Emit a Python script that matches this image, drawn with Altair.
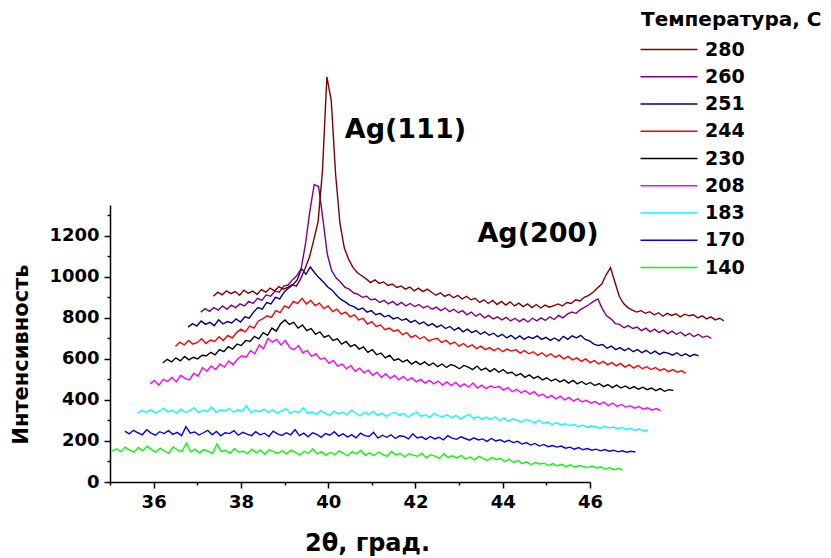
import altair as alt
import numpy as np
import pandas as pd

# Series order (legend order, top to bottom) and colours
TEMPS = ["280", "260", "251", "244", "230", "208", "183", "170", "140"]
COLORS = ["#800000", "#800080", "#000080", "#FF0000", "#000000",
          "#FF00FF", "#00FFFF", "#0000FF", "#00FF00"]

# waterfall: first 2θ of each plotted curve, common sampling step
X_START = {"140": 35.05, "170": 35.34, "183": 35.63, "208": 35.92, "230": 36.21,
           "244": 36.50, "251": 36.79, "260": 37.08, "280": 37.37}
STEP = 0.1

I_140 = [150, 162, 148, 170, 155, 145, 168, 152, 175, 158,
         146, 165, 150, 140, 172, 155, 149, 190, 147, 160,
         142, 158, 150, 139, 185, 148, 155, 140, 162, 146,
         150, 138, 160, 143, 155, 135, 158, 148, 140, 152,
         137, 155, 145, 132, 150, 140, 162, 136, 148, 130,
         145, 133, 152, 140, 128, 148, 137, 155, 130, 142,
         128, 146, 135, 125, 150, 132, 140, 122, 138, 131,
         125, 140, 118, 133, 126, 115, 138, 120, 128, 117,
         130, 112, 122, 108, 125, 115, 105, 120, 110, 114,
         100, 112, 95, 104, 90, 98, 85, 95, 88, 92,
         80, 90, 78, 86, 75, 84, 72, 80, 76, 70,
         78, 68, 74, 63, 70, 60, 66, 58]

I_170 = [248, 235, 252, 240, 230, 255, 238, 228, 245, 236,
         250, 232, 242, 226, 270, 238, 244, 229, 240, 252,
         230, 246, 225, 240, 236, 250, 228, 242, 233, 226,
         245, 230, 238, 222, 248, 235, 227, 240, 230, 255,
         226, 238, 220, 240, 232, 218, 236, 228, 245, 224,
         235, 220, 230, 215, 238, 226, 222, 242, 214, 228,
         218, 230, 212, 225, 222, 210, 235, 215, 220, 208,
         222, 210, 218, 205, 226, 214, 208, 220, 212, 204,
         215, 205, 210, 198, 212, 200, 206, 195, 203, 192,
         198, 185, 192, 180, 188, 175, 183, 172, 178, 170,
         175, 165, 170, 160, 168, 157, 163, 155, 160, 152,
         158, 150, 155, 147, 152, 145, 150, 146]

I_183 = [335, 348, 340, 352, 338, 345, 360, 342, 350, 336,
         355, 340, 348, 362, 338, 350, 344, 365, 340, 352,
         346, 358, 340, 352, 345, 372, 338, 350, 343, 355,
         340, 352, 336, 346, 358, 334, 345, 340, 362, 335,
         342, 330, 348, 336, 325, 345, 332, 340, 328, 350,
         335, 322, 340, 328, 345, 325, 336, 320, 332, 338,
         326, 334, 318, 330, 340, 320, 328, 315, 335, 322,
         318, 328, 312, 325, 308, 320, 330, 310, 318, 306,
         315, 305, 318, 300, 312, 296, 308, 302, 292, 305,
         298, 288, 300, 285, 292, 280, 290, 278, 284, 275,
         280, 270, 278, 266, 274, 268, 262, 272, 264, 268,
         260, 266, 256, 262, 252, 258, 248, 252]

I_208 = [478, 495, 472, 500, 490, 510, 488, 520, 505, 498,
         530, 515, 558, 540, 565, 548, 575, 560, 590, 572,
         598, 615, 608, 640, 625, 668, 650, 700, 682, 695,
         668, 690, 655, 645, 665, 630, 640, 612, 625, 598,
         605, 578, 592, 565, 575, 552, 568, 540, 555, 532,
         545, 520, 535, 510, 528, 505, 520, 498, 515, 495,
         508, 488, 500, 482, 495, 478, 492, 472, 488, 470,
         485, 465, 478, 462, 482, 458, 472, 455, 468, 460,
         465, 448, 460, 440, 452, 435, 445, 428, 440, 420,
         428, 410, 422, 405, 418, 400, 412, 395, 405, 390,
         398, 385, 392, 378, 390, 372, 385, 368, 378, 365,
         372, 360, 368, 355, 362, 350, 358, 348]

I_230 = [580, 598, 585, 605, 590, 612, 595, 608, 600, 618,
         615, 632, 620, 645, 635, 660, 648, 672, 665, 690,
         685, 710, 698, 728, 715, 750, 735, 772, 790, 768,
         778, 750, 765, 738, 748, 720, 732, 705, 715, 690,
         698, 672, 685, 660, 670, 648, 658, 632, 645, 620,
         628, 605, 618, 592, 600, 585, 595, 575, 588, 572,
         585, 568, 580, 562, 575, 558, 572, 565, 552, 568,
         560, 548, 565, 545, 555, 538, 552, 535, 548, 530,
         535, 518, 528, 510, 522, 505, 515, 498, 508, 492,
         502, 488, 498, 482, 495, 478, 490, 475, 485, 470,
         480, 465, 475, 460, 472, 458, 468, 455, 465, 452,
         462, 450, 458, 445, 455, 442, 450, 446]

I_244 = [660, 682, 668, 690, 672, 680, 698, 675, 692, 685,
         708, 690, 715, 702, 728, 745, 732, 760, 750, 785,
         795, 810, 802, 835, 825, 858, 848, 880, 870, 895,
         868, 885, 860, 872, 845, 858, 830, 842, 818, 828,
         805, 815, 790, 798, 770, 782, 758, 765, 742, 750,
         735, 742, 718, 728, 705, 715, 698, 708, 688, 695,
         700, 680, 690, 672, 682, 662, 675, 658, 668, 650,
         662, 645, 655, 640, 652, 635, 648, 638, 645, 628,
         640, 625, 635, 618, 630, 612, 625, 608, 618, 600,
         612, 595, 605, 588, 600, 582, 592, 576, 588, 572,
         582, 566, 578, 560, 572, 555, 568, 552, 562, 548,
         558, 544, 552, 538, 548, 535, 542, 530]

I_251 = [755, 772, 760, 785, 768, 778, 762, 790, 770, 782,
         775, 795, 780, 805, 798, 828, 850, 842, 875, 868,
         900, 892, 925, 945, 962, 985, 1040, 1012, 1048, 1020,
         995, 975, 950, 935, 910, 890, 878, 862, 855, 840,
         848, 828, 835, 815, 822, 805, 812, 795, 802, 788,
         795, 778, 788, 770, 780, 762, 772, 755, 765, 748,
         758, 740, 752, 732, 745, 728, 738, 720, 732, 715,
         725, 708, 720, 702, 715, 698, 712, 695, 708, 700,
         712, 695, 705, 690, 702, 688, 710, 695, 712, 702,
         715, 695, 688, 672, 665, 670, 652, 662, 645, 655,
         640, 652, 635, 645, 630, 642, 625, 638, 622, 632,
         628, 618, 630, 615, 625, 612, 622, 615]

I_260 = [828, 845, 832, 850, 838, 858, 842, 862, 850, 868,
         858, 880, 870, 895, 885, 912, 905, 930, 925, 955,
         960, 985, 1005, 1040, 1160, 1320, 1450, 1440, 1280, 1110,
         1030, 995, 975, 950, 940, 922, 915, 900, 905, 888,
         892, 875, 885, 868, 880, 862, 875, 858, 870, 855,
         865, 848, 858, 842, 852, 835, 848, 830, 842, 825,
         835, 815, 828, 808, 820, 800, 812, 795, 805, 790,
         802, 785, 798, 782, 795, 780, 798, 785, 800, 788,
         805, 792, 812, 800, 818, 828, 822, 840, 852, 865,
         880, 892, 845, 810, 795, 772, 768, 752, 762, 748,
         755, 738, 750, 732, 745, 728, 740, 722, 735, 720,
         730, 712, 725, 708, 720, 705, 712, 700]

I_280 = [905, 925, 912, 932, 918, 928, 910, 935, 920, 930,
         915, 938, 925, 945, 932, 952, 940, 948, 962, 955,
         990, 1040, 1095, 1180, 1270, 1520, 1975, 1860, 1500, 1260,
         1140, 1085, 1045, 1020, 1005, 990, 972, 985, 968, 975,
         958, 965, 948, 955, 940, 950, 932, 945, 928, 940,
         925, 910, 922, 905, 915, 898, 910, 892, 905, 888,
         895, 875, 888, 870, 885, 865, 880, 862, 878, 858,
         872, 855, 868, 850, 865, 848, 862, 852, 860, 868,
         858, 875, 870, 888, 882, 900, 910, 925, 945, 965,
         1010, 1045, 975, 905, 870, 850, 838, 828, 835, 822,
         830, 815, 825, 808, 822, 812, 820, 805, 818, 810,
         815, 800, 810, 795, 805, 790, 798, 785]

SERIES = {"140": I_140, "170": I_170, "183": I_183, "208": I_208, "230": I_230,
          "244": I_244, "251": I_251, "260": I_260, "280": I_280}

X_TICKS = list(range(35, 47))
Y_TICKS = list(range(0, 1400, 100))

ANN_TEXT = ["Ag(111)", "Ag(200)"]
ANN_X = [40.38, 43.42]
ANN_Y = [1676, 1169]

rows = []
for temp in ["140", "170", "183", "208", "230", "244", "251", "260", "280"]:
    vals = SERIES[temp]
    xs = X_START[temp] + STEP * np.arange(len(vals))
    for k, (xv, yv) in enumerate(zip(xs, vals)):
        rows.append({"temp": temp, "x": round(float(xv), 3), "y": yv, "k": k})
df = pd.DataFrame(rows)
ann_df = pd.DataFrame({"label": ANN_TEXT, "x": ANN_X, "y": ANN_Y})

FONT = "DejaVu Sans"

xscale = alt.Scale(domain=[35, 46], nice=False, zero=False)
yscale = alt.Scale(domain=[0, 1350], nice=False, zero=False)

xaxis = alt.Axis(
    values=X_TICKS, format="d", labelFlush=False,
    labelExpr="datum.value % 2 == 0 ? datum.label : ''",
    tickSize={"condition": {"test": "datum.value % 2 == 0", "value": 6}, "value": 3},
    labelPadding=5,
    title="2θ, град.",
    titleX=257, titleY=68, titleAlign="center", titleBaseline="alphabetic",
    titleFontSize=24,
)
yaxis = alt.Axis(
    values=Y_TICKS, format="d", labelFlush=False,
    labelExpr="datum.value % 200 == 0 ? datum.label : ''",
    tickSize={"condition": {"test": "datum.value % 200 == 0", "value": 6}, "value": 3},
    labelPadding=5,
    title="Интенсивность",
    titleX=-83, titleY=149, titleAngle=270, titleAlign="center",
    titleBaseline="alphabetic", titleFontSize=21,
)

lines = alt.Chart(df).mark_line(strokeWidth=1.4).encode(
    x=alt.X("x:Q", scale=xscale, axis=xaxis),
    y=alt.Y("y:Q", scale=yscale, axis=yaxis),
    color=alt.Color(
        "temp:N",
        scale=alt.Scale(domain=TEMPS, range=COLORS),
        legend=alt.Legend(
            title="Температура, C", titleLimit=400,
            orient="none", legendX=531, legendY=-195,
            symbolType="M-2,0H9.4", symbolSize=100, symbolStrokeWidth=1.5,
            labelOffset=45, rowPadding=7.25, titlePadding=10,
            labelFont=FONT, labelFontWeight="bold", labelFontSize=19, labelColor="black",
            titleFont=FONT, titleFontWeight="bold", titleFontSize=20, titleColor="black",
        ),
    ),
    order="k:Q",
)

ann = alt.Chart(ann_df).mark_text(
    align="left", baseline="alphabetic", font=FONT, fontWeight="bold",
    fontSize=27, color="black",
).encode(
    x=alt.X("x:Q", scale=xscale, axis=xaxis),
    y=alt.Y("y:Q", scale=yscale, axis=yaxis),
    text="label:N",
)

chart = alt.layer(lines, ann).properties(
    width=480, height=277,
    autosize=alt.AutoSizeParams(type="none"),
    padding={"left": 110, "top": 205, "right": 241, "bottom": 76},
).configure_view(stroke=None).configure_axis(
    grid=False,
    labelFont=FONT, labelFontWeight="bold", labelFontSize=18, labelColor="black",
    titleFont=FONT, titleFontWeight="bold", titleColor="black",
    domainColor="black", domainWidth=1.5, tickColor="black", tickWidth=1.5,
    labelOverlap=False,
)

chart.save("out.html", embed_options={"renderer": "svg", "actions": False})
